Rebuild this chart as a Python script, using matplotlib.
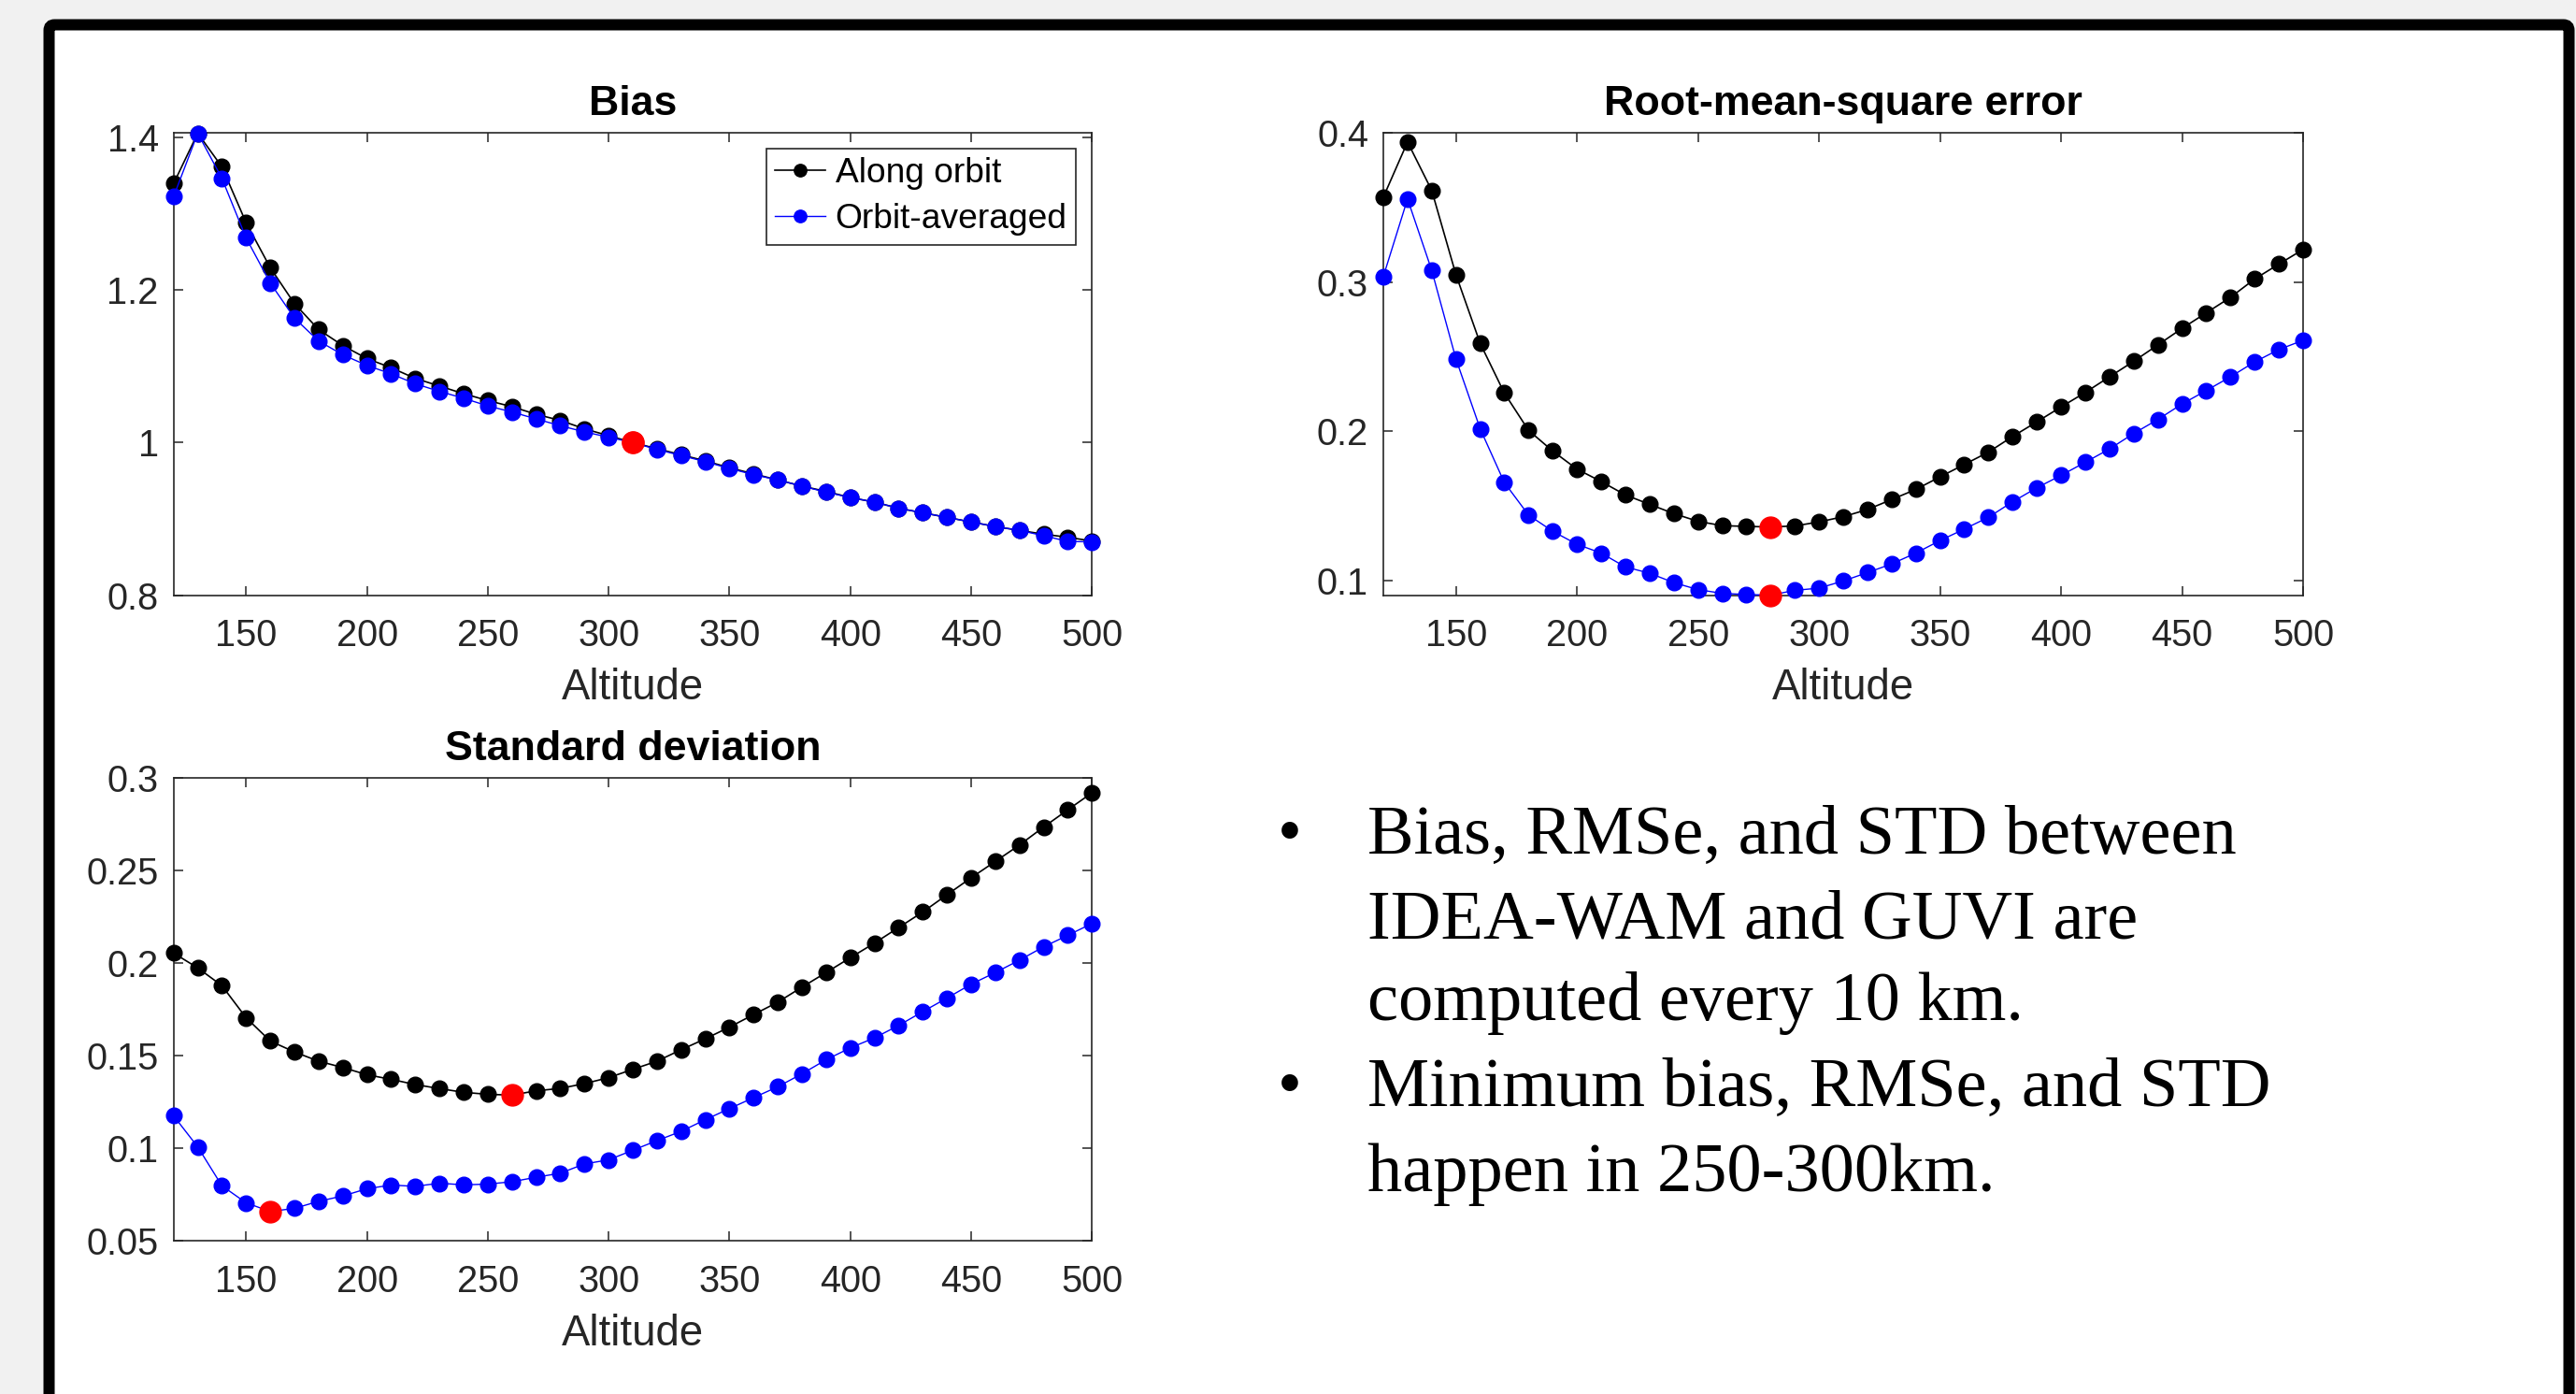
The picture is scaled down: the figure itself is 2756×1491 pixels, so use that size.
import matplotlib
matplotlib.use("Agg")
import matplotlib.pyplot as plt
import numpy as np
from matplotlib.patches import FancyBboxPatch
from matplotlib.transforms import IdentityTransform

# ---------------- data ----------------
altitude = [120, 130, 140, 150, 160, 170, 180, 190, 200, 210,
            220, 230, 240, 250, 260, 270, 280, 290, 300, 310,
            320, 330, 340, 350, 360, 370, 380, 390, 400, 410,
            420, 430, 440, 450, 460, 470, 480, 490, 500]

bias_along = [1.339, 1.405, 1.361, 1.288, 1.229, 1.182, 1.148, 1.127, 1.110, 1.098,
              1.084, 1.074, 1.064, 1.055, 1.047, 1.037, 1.029, 1.018, 1.009, 1.000,
              0.992, 0.984, 0.976, 0.967, 0.959, 0.951, 0.943, 0.936, 0.928, 0.922,
              0.914, 0.908, 0.902, 0.896, 0.890, 0.885, 0.880, 0.876, 0.871]
bias_avg = [1.322, 1.405, 1.346, 1.268, 1.209, 1.163, 1.133, 1.115, 1.101, 1.090,
            1.077, 1.067, 1.058, 1.048, 1.040, 1.031, 1.022, 1.014, 1.007, 1.000,
            0.991, 0.983, 0.975, 0.966, 0.958, 0.951, 0.943, 0.935, 0.928, 0.922,
            0.914, 0.908, 0.902, 0.896, 0.890, 0.885, 0.878, 0.8705, 0.870]

rmse_along = [0.357, 0.394, 0.3615, 0.305, 0.259, 0.2256, 0.2006, 0.1867, 0.1746, 0.1663,
              0.1573, 0.151, 0.1448, 0.1396, 0.1367, 0.1362, 0.1358, 0.1365, 0.1392, 0.1427,
              0.1475, 0.1542, 0.161, 0.1694, 0.1777, 0.186, 0.1965, 0.2063, 0.2163, 0.226,
              0.2365, 0.2469, 0.2579, 0.269, 0.2794, 0.2898, 0.3021, 0.3121, 0.3219]
rmse_avg = [0.3038, 0.3558, 0.3079, 0.2485, 0.2017, 0.1656, 0.1438, 0.1329, 0.1242, 0.1183,
            0.109, 0.1048, 0.0985, 0.0938, 0.0913, 0.0905, 0.0901, 0.0933, 0.0948, 0.0996,
            0.1052, 0.111, 0.1183, 0.1267, 0.1344, 0.1423, 0.1527, 0.1621, 0.1704, 0.1792,
            0.1881, 0.1985, 0.2079, 0.2183, 0.2273, 0.2365, 0.2465, 0.2548, 0.261]

std_along = [0.2055, 0.1975, 0.1879, 0.1706, 0.158, 0.1521, 0.1471, 0.1437, 0.1398, 0.1373,
             0.1345, 0.1323, 0.1303, 0.1292, 0.1288, 0.1311, 0.1324, 0.135, 0.1382, 0.1427,
             0.1471, 0.1533, 0.1592, 0.1655, 0.1723, 0.179, 0.1871, 0.195, 0.203, 0.2109,
             0.2193, 0.2277, 0.237, 0.2462, 0.255, 0.2639, 0.2736, 0.2829, 0.2921]
std_avg = [0.1176, 0.1008, 0.0798, 0.0706, 0.0659, 0.0676, 0.0714, 0.0743, 0.0782, 0.0802,
           0.0795, 0.0812, 0.0803, 0.0807, 0.082, 0.0844, 0.0866, 0.0916, 0.0938, 0.099,
           0.1042, 0.1092, 0.1155, 0.1215, 0.1274, 0.1333, 0.1403, 0.1479, 0.1543, 0.1597,
           0.1664, 0.1739, 0.1812, 0.1887, 0.195, 0.2017, 0.2089, 0.2151, 0.2215]

series_labels = ["Along orbit", "Orbit-averaged"]
titles = ["Bias", "Root-mean-square error", "Standard deviation"]
xlabel = "Altitude"
xticks = [150, 200, 250, 300, 350, 400, 450, 500]
xticklabels = ["150", "200", "250", "300", "350", "400", "450", "500"]
bias_yticks = [0.8, 1.0, 1.2, 1.4]
bias_yticklabels = ["0.8", "1", "1.2", "1.4"]
rmse_yticks = [0.1, 0.2, 0.3, 0.4]
rmse_yticklabels = ["0.1", "0.2", "0.3", "0.4"]
std_yticks = [0.05, 0.1, 0.15, 0.2, 0.25, 0.3]
std_yticklabels = ["0.05", "0.1", "0.15", "0.2", "0.25", "0.3"]

text_lines = ["Bias, RMSe, and STD between",
              "IDEA-WAM and GUVI are",
              "computed every 10 km.",
              "Minimum bias, RMSe, and STD",
              "happen in 250-300km."]
bullet_lines = [0, 3]

# ---------------- figure ----------------
W, H = 2756, 1491
DPI = 100
fig = plt.figure(figsize=(W / DPI, H / DPI), dpi=DPI)
fig.patch.set_facecolor("#f1f1f1")

# slide frame
frame = FancyBboxPatch((52.5, -10), 2748.5 - 52.5, (H - 26.5) + 10,
                       boxstyle="round,pad=0,rounding_size=6",
                       transform=IdentityTransform(), facecolor="white",
                       edgecolor="black", linewidth=12 * 72 / DPI, zorder=-10)
fig.patches.append(frame)

AX_COLOR = "#262626"
SANS = ["Liberation Sans", "DejaVu Sans"]
TICK_FS = 28.6
TITLE_FS = 32.2
LABEL_FS = 32.8
LEG_FS = 26.7


def px_rect(left, top, right, bottom):
    return [left / W, 1 - bottom / H, (right - left) / W, (bottom - top) / H]


def style_axes(ax, ylim, yticks, yticklabels, title):
    ax.set_xlim(120, 500)
    ax.set_ylim(*ylim)
    ax.set_xticks(xticks)
    ax.set_xticklabels(xticklabels, family=SANS, fontsize=TICK_FS, color=AX_COLOR)
    ax.set_yticks(yticks)
    ax.set_yticklabels(yticklabels, family=SANS, fontsize=TICK_FS, color=AX_COLOR)
    ax.tick_params(axis="both", direction="in", length=7.2, width=1.1,
                   color=AX_COLOR, top=True, right=True)
    ax.tick_params(axis="x", pad=17.5)
    ax.tick_params(axis="y", pad=11.5)
    for sp in ax.spines.values():
        sp.set_color(AX_COLOR)
        sp.set_linewidth(1.2)
    ax.set_title(title, family=SANS, fontsize=TITLE_FS, fontweight="bold",
                 color="black", pad=14)
    ax.set_xlabel(xlabel, family=SANS, fontsize=LABEL_FS, color=AX_COLOR, labelpad=11)


def draw(ax, along, avg, use_abs_dev=False):
    l1, = ax.plot(altitude, along, "-o", color="black", lw=1.2, ms=12,
                  clip_on=False, zorder=3, label=series_labels[0])
    l2, = ax.plot(altitude, avg, "-o", color="#0000ff", lw=1.0, ms=12,
                  clip_on=False, zorder=4, label=series_labels[1])
    for vals in (along, avg):
        arr = np.asarray(vals)
        i = int(np.argmin(np.abs(arr - 1.0))) if use_abs_dev else int(np.argmin(arr))
        ax.plot([altitude[i]], [vals[i]], "o", color="#ff0000", ms=16.5,
                clip_on=False, zorder=5)
    return l1, l2


ax1 = fig.add_axes(px_rect(185.7, 142.3, 1168.3, 636.7))
h = draw(ax1, bias_along, bias_avg, use_abs_dev=True)
style_axes(ax1, (0.8, 1.4053), bias_yticks, bias_yticklabels, titles[0])
leg = ax1.legend(handles=h, loc="upper right",
                 bbox_to_anchor=((1151 - 185.7) / 982.6, (636.7 - 159) / 494.4),
                 borderaxespad=0, fancybox=False, framealpha=1,
                 edgecolor=AX_COLOR, prop={"family": SANS, "size": LEG_FS},
                 handlelength=1.45, handletextpad=0.3, borderpad=0.25,
                 labelspacing=0.38, markerscale=0.8)
leg.get_frame().set_linewidth(1.2)

ax2 = fig.add_axes(px_rect(1480, 142.3, 2464, 636.7))
draw(ax2, rmse_along, rmse_avg)
style_axes(ax2, (0.09, 0.4), rmse_yticks, rmse_yticklabels, titles[1])

ax3 = fig.add_axes(px_rect(185.7, 832.3, 1168.3, 1327.3))
draw(ax3, std_along, std_avg)
style_axes(ax3, (0.05, 0.3), std_yticks, std_yticklabels, titles[2])

# bullet text
SERIF = ["Liberation Serif", "DejaVu Serif"]
TEXT_FS = 53.6
baselines = [913, 1003, 1091, 1183, 1274]
for i, (line, yb) in enumerate(zip(text_lines, baselines)):
    fig.text(1463 / W, 1 - yb / H, line, family=SERIF, fontsize=TEXT_FS,
             va="baseline", ha="left", color="black")
    if i in bullet_lines:
        fig.text(1380 / W, 1 - yb / H, "\u2022", family=SERIF, fontsize=TEXT_FS,
                 va="baseline", ha="center", color="black")

fig.savefig("out.png", dpi=DPI, facecolor=fig.get_facecolor())
